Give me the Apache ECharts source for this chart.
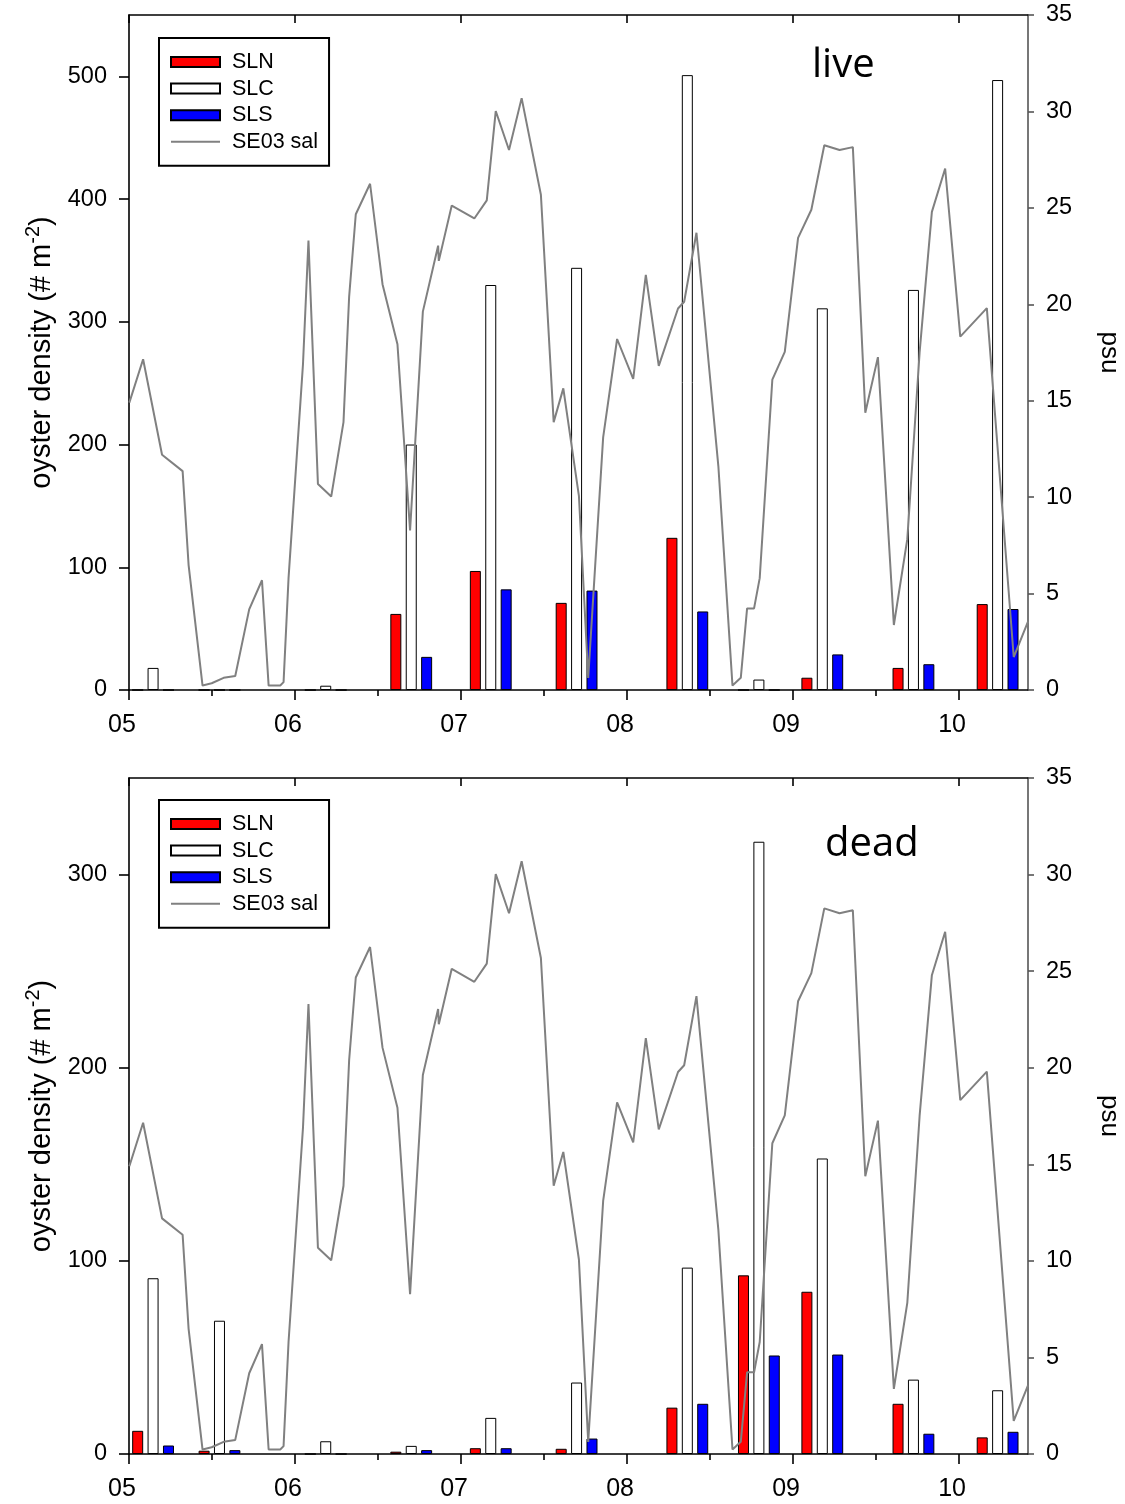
<!DOCTYPE html>
<html>
<head>
<meta charset="utf-8">
<script src="https://cdn.jsdelivr.net/npm/echarts@6/dist/echarts.min.js"></script>
<style>
html,body{margin:0;padding:0;background:#fff;}
#chart{width:1125px;height:1504px;}
</style>
</head>
<body>
<div id="chart"></div>
<script>
// ---- data (years given as 5 = 2005 ...) ----
const xTickValues = [5, 6, 7, 8, 9, 10];
const xTickLabels = ['05', '06', '07', '08', '09', '10'];
const xMinorTicks = [5.5, 6.5, 7.5, 8.5, 9.5];
const liveYTicks = [0, 100, 200, 300, 400, 500];
const deadYTicks = [0, 100, 200, 300];
const psuTicks = [0, 5, 10, 15, 20, 25, 30, 35];

const sampleDates = [5.145, 5.545, 6.185, 6.700, 7.179, 7.696, 8.363, 8.794, 9.176, 9.725, 10.232];

const liveSLN = [0, 0, 0, 62, 97, 71, 124, 0, 10, 18, 70];
const liveSLC = [18, 0, 3.5, 200, 330, 344, 501, 8.5, 311, 326, 497];
const liveSLS = [0, 0, 0, 27, 82, 81, 64, 0, 29, 21, 66];

const deadSLN = [12, 1.7, 0, 1.2, 3, 2.7, 24, 92.5, 84, 26, 8.6];
const deadSLC = [91, 69, 6.6, 4.2, 18.7, 37, 96.5, 317, 153, 38.5, 33];
const deadSLS = [4.4, 2, 0, 2, 3, 8, 26, 51, 51.5, 10.5, 11.5];

const salDates = [5.002, 5.085, 5.199, 5.323, 5.359, 5.443, 5.498, 5.570, 5.640, 5.724,
  5.801, 5.841, 5.911, 5.931, 5.961, 6.048, 6.081, 6.138, 6.218, 6.292,
  6.326, 6.366, 6.452, 6.527, 6.617, 6.693, 6.770, 6.862, 6.866, 6.944,
  7.080, 7.155, 7.209, 7.289, 7.365, 7.481, 7.558, 7.616, 7.710, 7.766,
  7.856, 7.940, 8.037, 8.113, 8.191, 8.307, 8.344, 8.418, 8.550, 8.635,
  8.685, 8.723, 8.765, 8.799, 8.875, 8.950, 9.030, 9.110, 9.188, 9.280,
  9.360, 9.435, 9.511, 9.607, 9.688, 9.762, 9.836, 9.916, 10.007, 10.167,
  10.329, 10.415];
const salValues = [14.9, 17.15, 12.2, 11.35, 6.48, 0.23, 0.35, 0.63, 0.73, 4.18,
  5.69, 0.23, 0.23, 0.41, 5.8, 16.9, 23.3, 10.68, 10.03, 13.89,
  20.4, 24.67, 26.25, 21.04, 17.93, 8.27, 19.62, 23.04, 22.25, 25.12,
  24.45, 25.39, 30.02, 28.0, 30.69, 25.68, 13.89, 15.64, 10.07, 0.63,
  13.1, 18.2, 16.13, 21.53, 16.81, 19.78, 20.13, 23.71, 11.6, 0.23,
  0.63, 4.23, 4.23, 5.8, 16.09, 17.53, 23.44, 24.9, 28.25, 28.0,
  28.15, 14.38, 17.26, 3.37, 7.82, 17.49, 24.79, 27.04, 18.32, 19.8,
  1.71, 3.55];

// ---- build option ----
const FONT = '"Liberation Sans", Arial, Helvetica, sans-serif';
const X_MIN = 5, X_MAX = 10.415;

function zip(xs, ys) { return xs.map((x, i) => [x, ys[i]]); }

const grids = [
  { left: 129, top: 15, width: 899, height: 675, containLabel: false, outerBoundsMode: 'none' },
  { left: 129, top: 778, width: 899, height: 676, containLabel: false, outerBoundsMode: 'none' }
];

const xAxes = [];
const yAxes = [];
grids.forEach((g, gi) => {
  xAxes.push({
    type: 'value', gridIndex: gi, min: X_MIN, max: X_MAX, position: 'bottom',
    axisLine: { show: true, onZero: false, lineStyle: { color: '#000', width: 1.6 } },
    axisTick: { show: true, customValues: xTickValues, length: 10, lineStyle: { color: '#000', width: 1.6 } },
    axisLabel: {
      customValues: xTickValues, fontSize: 25, fontFamily: FONT, color: '#000', margin: 23,
      padding: [0, 14, 0, 0],
      formatter: v => xTickLabels[xTickValues.indexOf(Math.round(v))] || ''
    },
    splitLine: { show: false }
  });
  xAxes.push({
    type: 'value', gridIndex: gi, min: X_MIN, max: X_MAX, position: 'bottom',
    axisLine: { show: false, onZero: false },
    axisTick: { show: true, customValues: xMinorTicks, length: 6, lineStyle: { color: '#000', width: 1.6 } },
    axisLabel: { show: false },
    splitLine: { show: false }
  });
  xAxes.push({
    type: 'value', gridIndex: gi, min: X_MIN, max: X_MAX, position: 'top',
    axisLine: { show: true, onZero: false, lineStyle: { color: '#000', width: 1.6 } },
    axisTick: { show: true, inside: true, customValues: xTickValues, length: 8, lineStyle: { color: '#000', width: 1.6 } },
    axisLabel: { show: false },
    splitLine: { show: false }
  });
  const yt = gi === 0 ? liveYTicks : deadYTicks;
  yAxes.push({
    type: 'value', gridIndex: gi, position: 'left', min: 0, max: gi === 0 ? 550 : 350, interval: 100,
    axisLine: { show: true, onZero: false, lineStyle: { color: '#000', width: 1.6 } },
    axisTick: { show: true, customValues: yt, length: 10, lineStyle: { color: '#000', width: 1.6 } },
    axisLabel: { customValues: yt, fontSize: 23.5, fontFamily: FONT, color: '#000', margin: 22 },
    splitLine: { show: false },
    name: '{a|oyster density (# m}{s|-2}{a|)}',
    nameLocation: 'middle', nameGap: 72,
    nameTextStyle: {
      fontFamily: FONT, color: '#000', fontSize: 29,
      rich: {
        a: { fontSize: 29, fontFamily: FONT, color: '#000', verticalAlign: 'bottom' },
        s: { fontSize: 20, fontFamily: FONT, color: '#000', verticalAlign: 'bottom', padding: [0, 0, 13, 0] }
      }
    }
  });
  yAxes.push({
    type: 'value', gridIndex: gi, position: 'right', min: 0, max: 35, interval: 5,
    axisLine: { show: true, onZero: false, lineStyle: { color: '#555', width: 1.6 } },
    axisTick: { show: true, customValues: psuTicks, length: 6, lineStyle: { color: '#555', width: 1.6 } },
    axisLabel: { customValues: psuTicks, fontSize: 23.5, fontFamily: FONT, color: '#000', margin: 18 },
    splitLine: { show: false },
    name: 'psu', nameLocation: 'middle', nameRotate: -90, nameGap: 68,
    nameTextStyle: { fontFamily: FONT, color: '#000', fontSize: 26 }
  });
});

const panels = [
  { sln: liveSLN, slc: liveSLC, sls: liveSLS },
  { sln: deadSLN, slc: deadSLC, sls: deadSLS }
];

const series = [];
panels.forEach((p, gi) => {
  const xi = gi * 3, yl = gi * 2, yr = gi * 2 + 1;
  const barCommon = { type: 'bar', xAxisIndex: xi, yAxisIndex: yl, barWidth: 11, barGap: '40%', animation: false };
  series.push(Object.assign({}, barCommon, { name: 'SLN', data: zip(sampleDates, p.sln), itemStyle: { color: '#ff0000', borderColor: '#000', borderWidth: 1 } }));
  series.push(Object.assign({}, barCommon, { name: 'SLC', data: zip(sampleDates, p.slc), itemStyle: { color: '#ffffff', borderColor: '#000', borderWidth: 1 } }));
  series.push(Object.assign({}, barCommon, { name: 'SLS', data: zip(sampleDates, p.sls), itemStyle: { color: '#0000ff', borderColor: '#000', borderWidth: 1 } }));
  series.push({
    type: 'line', name: 'SE03 sal', xAxisIndex: xi, yAxisIndex: yr, data: zip(salDates, salValues),
    symbol: 'none', showSymbol: false, lineStyle: { color: '#808080', width: 2 }, itemStyle: { color: '#808080' },
    z: 5, animation: false
  });
});

const legendData = [
  { name: 'SLN', icon: 'rect' }, { name: 'SLC', icon: 'rect' }, { name: 'SLS', icon: 'rect' },
  { name: 'SE03 sal', itemStyle: { color: 'rgba(0,0,0,0)', borderWidth: 0, opacity: 0 } }
];
const legendCommon = {
  orient: 'vertical', left: 159, data: legendData, selectedMode: false,
  itemWidth: 49, itemHeight: 10, itemGap: 4.6,
  padding: [13, 11, 13, 11], borderColor: '#000', borderWidth: 2, backgroundColor: '#fff',
  textStyle: { fontSize: 21.5, lineHeight: 22, fontFamily: FONT, color: '#000', padding: [0, 0, 0, 7] }
};

const option = {
  animation: false,
  backgroundColor: '#fff',
  textStyle: { fontFamily: FONT },
  grid: grids,
  xAxis: xAxes,
  yAxis: yAxes,
  legend: [Object.assign({}, legendCommon, { top: 38 }), Object.assign({}, legendCommon, { top: 800 })],
  series: series,
  graphic: [
    { type: 'text', left: 812, top: 46, style: { text: 'live', fontSize: 40, fontFamily: '"Open Sans", sans-serif', fill: '#000' } },
    { type: 'text', left: 825, top: 825, style: { text: 'dead', fontSize: 40, fontFamily: '"Open Sans", sans-serif', fill: '#000' } }
  ]
};

const chart = echarts.init(document.getElementById('chart'), null, { renderer: 'canvas' });
chart.setOption(option);
</script>
</body>
</html>
